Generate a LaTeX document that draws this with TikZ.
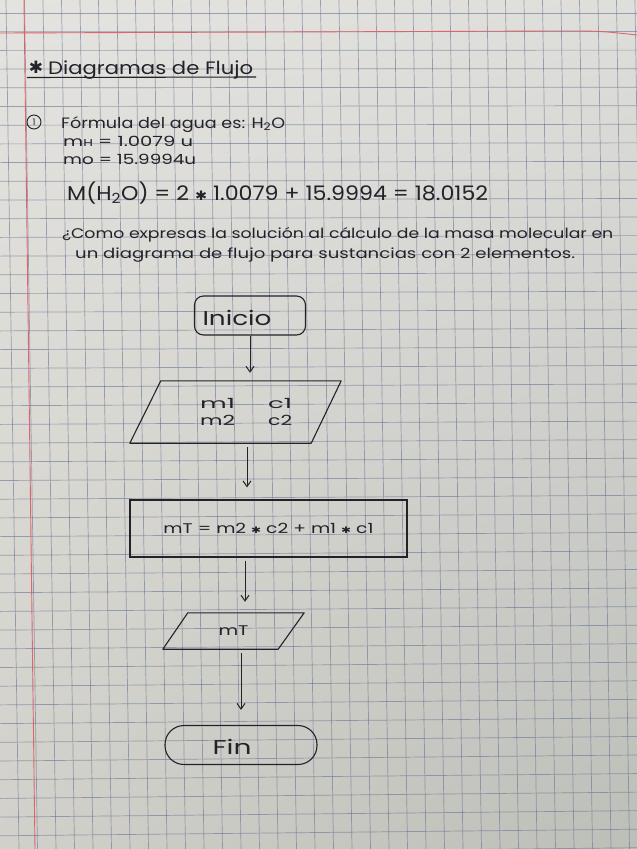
\documentclass[tikz,border=0pt]{standalone}
\usepackage{fontspec}
\setmainfont{Poppins}
\newfontfamily\symfont{DejaVu Sans}
\usepackage{graphicx}
\usetikzlibrary{arrows.meta,shadings}
\definecolor{ink}{RGB}{34,34,40}
\definecolor{gridc}{RGB}{105,116,146}
\definecolor{redm}{RGB}{222,100,108}
\definecolor{paperTL}{RGB}{228,227,223}
\definecolor{paperTR}{RGB}{222,222,219}
\definecolor{paperBL}{RGB}{209,208,202}
\definecolor{paperBR}{RGB}{188,190,184}
\newcommand{\fitw}[2]{\resizebox{#1}{\height}{#2}}
\newcommand{\hstar}{{\symfont\char"2731}}
\newcommand{\mstar}[1]{\raisebox{#1}{\fontsize{9}{9}\symfont\char"2731}}
\tikzset{
  hand/.style={inner sep=0pt, anchor=base west, text=ink},
  gridline/.style={draw=gridc, line width=0.7pt, opacity=0.6},
  shapeline/.style={draw=ink, line width=1.1pt},
  arr/.style={draw=ink, line width=1pt, -{Straight Barb[angle=70:7pt]}},
  parabox/.style={inner sep=0pt, text=ink},
}
\begin{document}
\begin{tikzpicture}[x=1pt,y=-1pt]
\useasboundingbox (0,0) rectangle (637,849);
% paper
\shade[upper left=paperTL, upper right=paperTR, lower left=paperBL, lower right=paperBR] (0,0) rectangle (637,849);
% grid
\foreach \k in {0,...,34} \draw[gridline] (6+18.5*\k,0) -- (19+18.5*\k,849);
\foreach \k in {0,...,45} \draw[gridline] (0,13+18.7*\k) -- (637,13+18.55*\k);
% red margins
\draw[redm, line width=0.9pt] (0,33) -- (560,31) .. controls (600,31) .. (637,35);
\draw[redm, line width=0.9pt] (24,0) -- (35,849);

% header text
\node[inner sep=0pt, text=ink, font=\fontsize{17}{17}\selectfont] (star) at (36,67) {\hstar};
\node[hand, font=\fontsize{18}{18}\selectfont] (title) at (48,74) {\fitw{205pt}{Diagramas de Flujo}};
\draw[ink, line width=1.1pt] (27,77.5) -- (256,77);

\node[circle, draw=ink, line width=0.9pt, minimum size=14pt, inner sep=0pt, text=ink, font=\fontsize{9}{9}\selectfont] (num) at (34,122) {1};
\node[hand, font=\fontsize{15}{15}\selectfont] (l1) at (61,128) {\fitw{224pt}{Fórmula del agua es: H\textsubscript{2}O}};
\node[hand, font=\fontsize{14}{14}\selectfont] (l2) at (63,146) {\fitw{130pt}{m{\fontsize{10}{10}\selectfont H} = 1.0079 u}};
\node[hand, font=\fontsize{14}{14}\selectfont] (l3) at (63,164) {\fitw{133pt}{mo = 15.9994u}};
\node[hand, font=\fontsize{20}{20}\selectfont] (l4) at (67,200) {\fitw{421pt}{M(H\textsubscript{2}O) = 2 {\fontsize{13}{13}\symfont\char"2731} 1.0079 + 15.9994 = 18.0152}};
\node[hand, font=\fontsize{14}{14}\selectfont] (l5) at (62,238) {\fitw{551pt}{¿Como expresas la solución al cálculo de la masa molecular en}};
\node[hand, font=\fontsize{14}{14}\selectfont] (l6) at (75,258) {\fitw{500pt}{un diagrama de flujo para sustancias con 2 elementos.}};

% flowchart
\node[shapeline, rounded corners=9pt, minimum width=111pt, minimum height=39pt,
      label={[name=iniT, text=ink, font=\fontsize{20}{20}\selectfont, xshift=-13pt, yshift=-2pt]center:\fitw{69pt}{Inicio}}] (ini) at (250,315.5) {};

\node[parabox, minimum width=211pt, minimum height=62pt] (par1) at (235.5,412) {};
\draw[shapeline, line join=round] ([xshift=31pt]par1.north west) -- (par1.north east) -- ([xshift=-30pt]par1.south east) -- (par1.south west) -- cycle;
\node[hand, font=\fontsize{14}{14}\selectfont] (in1) at (200,408) {\fitw{35pt}{m1}\hspace{33pt}\fitw{24pt}{c1}};
\node[hand, font=\fontsize{14}{14}\selectfont] (in2) at (200,425) {\fitw{35pt}{m2}\hspace{33pt}\fitw{24pt}{c2}};

\node[shapeline, minimum width=277pt, minimum height=57pt, inner sep=0pt, text=ink, font=\fontsize{14}{14}\selectfont] (proc) at (268.5,528.5) {\fitw{210pt}{mT = m2 \mstar{0pt} c2 + m1 \mstar{0pt} c1}};

\node[parabox, minimum width=141pt, minimum height=36pt, font=\fontsize{14}{14}\selectfont] (par2) at (233.5,631) {\fitw{30pt}{mT}};
\draw[shapeline, line join=round] ([xshift=25pt]par2.north west) -- (par2.north east) -- ([xshift=-26pt]par2.south east) -- (par2.south west) -- cycle;

\node[shapeline, rounded corners=19pt, minimum width=152pt, minimum height=39pt,
      label={[name=finT, text=ink, font=\fontsize{20}{20}\selectfont, xshift=-9pt, yshift=-2pt]center:\fitw{39pt}{Fin}}] (fin) at (241,745) {};

\draw[arr, shorten >=8pt] (ini.south) -- (ini.south |- par1.north);
\draw[arr, shorten <=4pt, shorten >=12pt] ([xshift=11.5pt]par1.south) -- ([xshift=11.5pt]par1.south |- proc.north);
\draw[arr, shorten <=3pt, shorten >=11pt] ([xshift=-23.5pt]proc.south) -- ([xshift=-23.5pt]proc.south |- par2.north);
\draw[arr, shorten <=4pt, shorten >=15pt] (par2.south -| fin.north) -- (fin.north);
\end{tikzpicture}
\end{document}
